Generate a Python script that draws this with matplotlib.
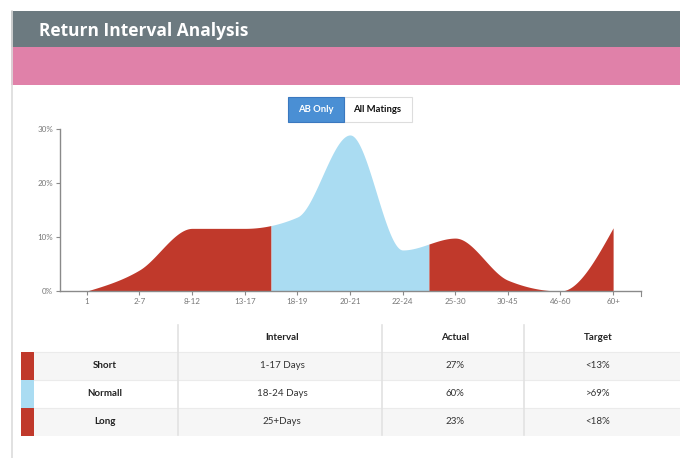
import numpy as np
import matplotlib
matplotlib.use("Agg")
import matplotlib.pyplot as plt
from matplotlib.patches import Rectangle

plt.rcParams['font.family'] = ['Lato', 'DejaVu Sans']

# ---------------- data ----------------
categories = ["1", "2-7", "8-12", "13-17", "18-19", "20-21", "22-24",
              "25-30", "30-45", "46-60", "60+"]
values = [0.0, 3.9, 11.6, 11.6, 13.7, 28.9, 7.6, 9.8, 2.0, 0.0, 11.7]
yticks = [0, 10, 20, 30]
ytick_labels = ["0%", "10%", "20%", "30%"]

title = "Return Interval Analysis"
buttons = ["AB Only", "All Matings"]
table_cols = ["Interval", "Actual", "Target"]
row_names = ["Short", "Normall", "Long"]
row_interval = ["1-17 Days", "18-24 Days", "25+Days"]
row_actual = ["27%", "60%", "23%"]
row_target = ["<13%", ">69%", "<18%"]

RED = "#c0392b"
BLUE = "#aadcf2"
row_colors = [RED, BLUE, RED]
# segment boundaries (in category index) for colored areas
segments = [(0, 3.5, RED), (3.5, 6.5, BLUE), (6.5, 10, RED)]


def monotone_x(y, n_per=60):
    """d3.curveMonotoneX style interpolation (uniform spacing)."""
    y = np.asarray(y, float)
    n = len(y)
    s = np.diff(y)
    m = np.zeros(n)
    for i in range(1, n - 1):
        s0, s1 = s[i - 1], s[i]
        p = (s0 + s1) / 2.0
        m[i] = (np.sign(s0) + np.sign(s1)) * min(abs(s0), abs(s1), 0.5 * abs(p))
    m[0] = (3 * s[0] - m[1]) / 2.0
    m[-1] = (3 * s[-1] - m[-2]) / 2.0
    xs, ys = [], []
    for i in range(n - 1):
        t = np.linspace(0, 1, n_per, endpoint=(i == n - 2))
        h00 = 2 * t**3 - 3 * t**2 + 1
        h10 = t**3 - 2 * t**2 + t
        h01 = -2 * t**3 + 3 * t**2
        h11 = t**3 - t**2
        xs.append(i + t)
        ys.append(h00 * y[i] + h10 * m[i] + h01 * y[i + 1] + h11 * m[i + 1])
    return np.concatenate(xs), np.concatenate(ys)


W, H = 680, 458
fig = plt.figure(figsize=(W / 100, H / 100), dpi=100)

# ---------------- background / page layout ----------------
bg = fig.add_axes([0, 0, 1, 1], zorder=0)
bg.set_xlim(0, W)
bg.set_ylim(H, 0)
bg.axis("off")

# panel border
bg.plot([11.5, 11.5], [11, H], color="#dcdcdc", lw=1.2)
bg.add_patch(Rectangle((11, 11), W, 36, color="#6c7a80", lw=0))
bg.add_patch(Rectangle((11, 47), W, 38, color="#e081a9", lw=0))
bg.text(39, 31, title, color="white", fontsize=12.5, fontweight="bold",
        va="center", ha="left", family=["Open Sans", "DejaVu Sans"])

# toggle buttons
bg.add_patch(Rectangle((344, 97), 68, 25, facecolor="white",
                       edgecolor="#dddddd", lw=0.8))
bg.add_patch(Rectangle((288, 97), 56, 25, facecolor="#4a8fd4",
                       edgecolor="#3a78bf", lw=0.8))
bg.text(316, 110, buttons[0], color="white", fontsize=6.8, fontweight="bold",
        ha="center", va="center")
bg.text(377, 110, buttons[1], color="#111111", fontsize=6.8, fontweight="bold",
        ha="center", va="center")

# ---------------- table ----------------
row_top = [352, 380, 408]
row_h = 28
for i, top in enumerate(row_top):
    if i % 2 == 0:
        bg.add_patch(Rectangle((34, top), W - 34, row_h, color="#f6f6f6", lw=0))
    bg.plot([34, W], [top, top], color="#ebebeb", lw=0.8)
    bg.add_patch(Rectangle((21, top), 13, row_h, color=row_colors[i], lw=0))

for xv in [178, 382, 524]:
    bg.plot([xv, xv], [325, 435], color="#e2e2e2", lw=1.2)

col_x = [282, 455, 598]
FS = 7
for cx, lab in zip(col_x, table_cols):
    bg.text(cx, 337, lab, fontsize=FS, fontweight="bold", color="#222222",
            ha="center", va="center")
for i, top in enumerate(row_top):
    yc = top + row_h / 2
    bg.text(105, yc, row_names[i], fontsize=FS, fontweight="bold",
            color="#222222", ha="center", va="center")
    bg.text(col_x[0], yc, row_interval[i], fontsize=FS, color="#333333",
            ha="center", va="center")
    bg.text(col_x[1], yc, row_actual[i], fontsize=FS, color="#333333",
            ha="center", va="center")
    bg.text(col_x[2], yc, row_target[i], fontsize=FS, color="#333333",
            ha="center", va="center")

# ---------------- area chart ----------------
x0, x1 = 60, 641
y_top, y_bot = 129, 291
ax = fig.add_axes([x0 / W, (H - y_bot) / H, (x1 - x0) / W, (y_bot - y_top) / H],
                  zorder=1)
ax.patch.set_alpha(0)

xs, ys = monotone_x(values)
ys = np.clip(ys, 0, None)
for a, b, col in segments:
    xa = np.linspace(a, b, 400)
    ya = np.clip(np.interp(xa, xs, ys), 0, None)
    ax.fill_between(xa, 0, ya, color=col, lw=0)

ax.set_xlim(-0.51, 10.53)
ax.set_ylim(0, 30)
ax.set_xticks(range(len(categories)))
ax.set_xticklabels(categories)
ax.set_yticks(yticks)
ax.set_yticklabels(ytick_labels)
for side in ["top", "right"]:
    ax.spines[side].set_visible(False)
for side in ["left", "bottom"]:
    ax.spines[side].set_color("#8a8a8a")
    ax.spines[side].set_linewidth(1.0)
ax.tick_params(axis="both", colors="#8a8a8a", length=3, width=0.8,
               labelsize=5.8, labelcolor="#777777", pad=2)
# outer end tick of x axis
ax.plot([10.53, 10.53], [0, -0.9], color="#8a8a8a", lw=0.8, clip_on=False)

fig.savefig("out.png", dpi=100)
